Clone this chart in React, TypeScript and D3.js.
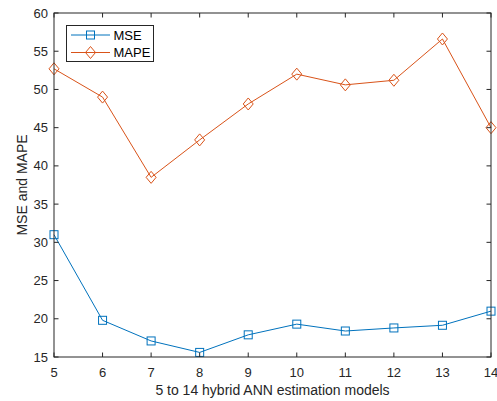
import React from "react";
import * as d3 from "d3";

// Hybrid ANN model index (5..14)
const models = [5, 6, 7, 8, 9, 10, 11, 12, 13, 14];
const mse = [31.0, 19.8, 17.1, 15.6, 17.9, 19.3, 18.4, 18.8, 19.15, 21.0];
const mape = [52.7, 49.0, 38.5, 43.4, 48.1, 52.0, 50.6, 51.2, 56.6, 45.0];
const yTicks = [15, 20, 25, 30, 35, 40, 45, 50, 55, 60];
const seriesNames = ["MSE", "MAPE"];

const W = 497;
const H = 401;
const M = { left: 54, right: 6, top: 13, bottom: 44 };
const AXIS = "#262626";
const COLORS = ["#0072BD", "#D95319"];
const FONT = "'Liberation Sans', Arial, Helvetica, sans-serif";

export default function App() {
  const x = d3.scaleLinear().domain([5, 14]).range([M.left, W - M.right]);
  const y = d3.scaleLinear().domain([15, 60]).range([H - M.bottom, M.top]);
  const x0 = x.range()[0], x1 = x.range()[1];
  const y0 = y.range()[0], y1 = y.range()[1];

  const line = d3
    .line<number>()
    .x((_, i) => x(models[i]))
    .y((d) => y(d));

  const square = (cx: number, cy: number, color: string, key: React.Key) => (
    <rect key={key} x={cx - 4} y={cy - 4} width={8} height={8} fill="none" stroke={color} strokeWidth={1} />
  );
  const diamond = (cx: number, cy: number, color: string, key: React.Key) => (
    <path
      key={key}
      d={`M${cx},${cy - 6}L${cx + 5},${cy}L${cx},${cy + 6}L${cx - 5},${cy}Z`}
      fill="none"
      stroke={color}
      strokeWidth={1}
    />
  );
  const markers = [square, diamond];
  const data = [mse, mape];
  const tl = 4.5;

  return (
    <svg width={W} height={H} style={{ position: "absolute", left: 0, top: 0, background: "#fff" }} fontFamily={FONT}>
      <rect x={0} y={0} width={W} height={H} fill="#fff" />
      {/* series */}
      {data.map((vals, s) => (
        <g key={s}>
          <path d={line(vals) || ""} fill="none" stroke={COLORS[s]} strokeWidth={1} />
          {vals.map((v, i) => markers[s](x(models[i]), y(v), COLORS[s], i))}
        </g>
      ))}
      {/* box */}
      <rect x={x0} y={y1} width={x1 - x0} height={y0 - y1} fill="none" stroke={AXIS} strokeWidth={1} />
      {/* x ticks */}
      {models.map((m) => (
        <g key={m}>
          <line x1={x(m)} x2={x(m)} y1={y0} y2={y0 - tl} stroke={AXIS} />
          <line x1={x(m)} x2={x(m)} y1={y1} y2={y1 + tl} stroke={AXIS} />
          <text x={x(m)} y={y0 + 19.5} textAnchor="middle" fontSize={13} fill={AXIS}>
            {m}
          </text>
        </g>
      ))}
      {/* y ticks */}
      {yTicks.map((t) => (
        <g key={t}>
          <line x1={x0} x2={x0 + tl} y1={y(t)} y2={y(t)} stroke={AXIS} />
          <line x1={x1} x2={x1 - tl} y1={y(t)} y2={y(t)} stroke={AXIS} />
          <text x={x0 - 6} y={y(t) + 4.5} textAnchor="end" fontSize={13} fill={AXIS}>
            {t}
          </text>
        </g>
      ))}
      <text x={(x0 + x1) / 2} y={H - 6.5} textAnchor="middle" fontSize={14} fill={AXIS}>
        5 to 14 hybrid ANN estimation models
      </text>
      <text
        transform={`translate(26.5,${(y0 + y1) / 2}) rotate(-90)`}
        textAnchor="middle"
        fontSize={14}
        fill={AXIS}
      >
        MSE and MAPE
      </text>
      {/* legend */}
      <g>
        <rect x={66.5} y={25.5} width={87} height={36} fill="#fff" stroke={AXIS} strokeWidth={1} />
        {seriesNames.map((name, s) => {
          const ly = 35 + s * 17.5;
          return (
            <g key={name}>
              <line x1={71} x2={110} y1={ly} y2={ly} stroke={COLORS[s]} strokeWidth={1} />
              {markers[s](90.5, ly, COLORS[s], "m")}
              <text x={113.5} y={ly + 4.5} fontSize={13} fill="#000">
                {name}
              </text>
            </g>
          );
        })}
      </g>
    </svg>
  );
}
